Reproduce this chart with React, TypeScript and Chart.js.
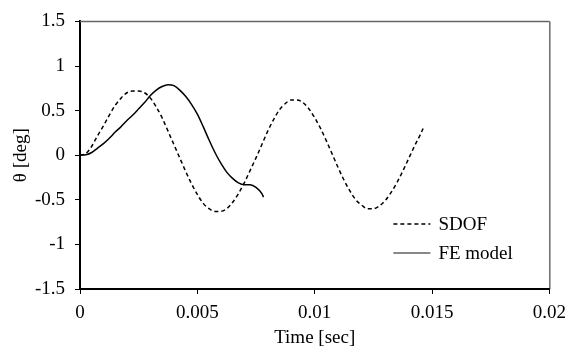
import React, { useEffect, useRef } from 'react';
import { Chart, registerables } from 'chart.js';

Chart.register(...registerables);

// ---- data ----
const sdofTime = [
  0, 0.00025, 0.0005, 0.00075, 0.001, 0.00125, 0.0015, 0.00175, 0.002, 0.00225,
  0.0025, 0.00275, 0.003, 0.00325, 0.0035, 0.00375, 0.004, 0.00425, 0.0045, 0.00475,
  0.005, 0.00525, 0.0055, 0.00575, 0.006, 0.00625, 0.0065, 0.00675, 0.007, 0.00725,
  0.0075, 0.00775, 0.008, 0.00825, 0.0085, 0.00875, 0.009, 0.00925, 0.0095, 0.00975,
  0.01, 0.01025, 0.0105, 0.01075, 0.011, 0.01125, 0.0115, 0.01175, 0.012, 0.01225,
  0.0125, 0.01275, 0.013, 0.01325, 0.0135, 0.01375, 0.014, 0.01425, 0.0145, 0.01462,
];
const sdofTheta = [
  0, 0.02, 0.1, 0.22, 0.33, 0.45, 0.56, 0.64, 0.7, 0.72,
  0.72, 0.7, 0.64, 0.54, 0.42, 0.27, 0.12, -0.03, -0.18, -0.32,
  -0.44, -0.54, -0.6, -0.63, -0.63, -0.6, -0.53, -0.43, -0.31, -0.17,
  -0.03, 0.12, 0.27, 0.4, 0.51, 0.58, 0.62, 0.62, 0.59, 0.52,
  0.42, 0.3, 0.16, 0.01, -0.14, -0.28, -0.4, -0.5, -0.56, -0.6,
  -0.6, -0.57, -0.51, -0.42, -0.31, -0.18, -0.04, 0.1, 0.23, 0.3,
];
const feTime = [
  0, 0.00025, 0.0005, 0.00075, 0.001, 0.00125, 0.0015, 0.00175, 0.002, 0.00225,
  0.0025, 0.00275, 0.003, 0.00325, 0.0035, 0.00375, 0.004, 0.00425, 0.0045, 0.00475,
  0.005, 0.00525, 0.0055, 0.00575, 0.006, 0.00625, 0.0065, 0.00675, 0.007, 0.00725,
  0.0075, 0.00775, 0.00782,
];
const feTheta = [
  0, 0.005, 0.03, 0.08, 0.13, 0.19, 0.26, 0.32, 0.39, 0.45,
  0.52, 0.59, 0.67, 0.73, 0.77, 0.79, 0.78, 0.73, 0.66, 0.57,
  0.46, 0.32, 0.17, 0.03, -0.09, -0.19, -0.26, -0.31, -0.33, -0.33,
  -0.36, -0.43, -0.47,
];
const seriesLabels = ['SDOF', 'FE model'];
const xTickValues = [0, 0.005, 0.01, 0.015, 0.02];
const yTickValues = [-1.5, -1, -0.5, 0, 0.5, 1, 1.5];
const xTitle = 'Time [sec]';
const yTitle = 'θ [deg]';

const FONT = '"Liberation Serif", "Times New Roman", serif';
const FS = 19;

const framePlugin = {
  id: 'frame',
  afterDatasetsDraw(chart: any) {
    const { ctx, chartArea } = chart;
    const { left, right, top, bottom } = chartArea;
    ctx.save();
    ctx.strokeStyle = '#666';
    ctx.lineWidth = 1.5;
    ctx.beginPath();
    ctx.moveTo(left, top);
    ctx.lineTo(right, top);
    ctx.stroke();
    ctx.strokeStyle = '#222';
    ctx.lineWidth = 1;
    ctx.beginPath();
    ctx.moveTo(right + 0.5, top);
    ctx.lineTo(right + 0.5, bottom);
    ctx.stroke();
    ctx.restore();
  },
};

const insideLegendPlugin = {
  id: 'insideLegend',
  afterDraw(chart: any) {
    const { ctx, chartArea } = chart;
    const { right, bottom } = chartArea;
    const rows = [
      { y: bottom - 65, dash: [4, 3], color: '#000', width: 1.5 },
      { y: bottom - 36, dash: [], color: '#888', width: 2 },
    ];
    ctx.save();
    chart.data.datasets.forEach((ds: any, i: number) => {
      const r = rows[i];
      ctx.strokeStyle = r.color;
      ctx.lineWidth = r.width;
      ctx.setLineDash(r.dash);
      ctx.beginPath();
      ctx.moveTo(right - 156, r.y);
      ctx.lineTo(right - 119, r.y);
      ctx.stroke();
      ctx.setLineDash([]);
      ctx.fillStyle = '#000';
      ctx.font = `${FS}px ${FONT}`;
      ctx.textAlign = 'left';
      ctx.textBaseline = 'middle';
      ctx.fillText(ds.label, right - 111, r.y + 1);
    });
    ctx.restore();
  },
};

const fmt = (v: number) => String(parseFloat(Number(v).toFixed(4)));

export default function App() {
  const ref = useRef<HTMLCanvasElement | null>(null);

  useEffect(() => {
    if (!ref.current) return;
    const chart = new Chart(ref.current, {
      type: 'scatter',
      data: {
        datasets: [
          {
            label: seriesLabels[0],
            data: sdofTime.map((t, i) => ({ x: t, y: sdofTheta[i] })),
            showLine: true,
            borderColor: '#000',
            borderWidth: 1.5,
            borderDash: [4, 3],
            pointRadius: 0,
            cubicInterpolationMode: 'monotone',
            fill: false,
          },
          {
            label: seriesLabels[1],
            data: feTime.map((t, i) => ({ x: t, y: feTheta[i] })),
            showLine: true,
            borderColor: '#000',
            borderWidth: 1.5,
            pointRadius: 0,
            cubicInterpolationMode: 'monotone',
            fill: false,
          },
        ],
      },
      options: {
        animation: false,
        responsive: false,
        devicePixelRatio: 1,
        layout: { padding: { top: 15, right: 23, left: 0, bottom: 0 } },
        plugins: {
          legend: { display: false },
          tooltip: { enabled: false },
        },
        scales: {
          x: {
            type: 'linear',
            min: 0,
            max: 0.02,
            afterFit: (s: any) => {
              s.height = 62;
            },
            afterBuildTicks: (s: any) => {
              s.ticks = xTickValues.map((v) => ({ value: v }));
            },
            ticks: {
              color: '#000',
              font: { family: FONT, size: FS },
              padding: 8,
              maxRotation: 0,
              callback: (v: any) => fmt(v),
            },
            grid: {
              drawOnChartArea: false,
              drawTicks: true,
              tickLength: 5,
              color: '#000',
              lineWidth: 1,
            },
            border: { display: true, color: '#000', width: 2 },
            title: {
              display: true,
              text: xTitle,
              color: '#000',
              font: { family: FONT, size: FS },
              padding: { top: 0, bottom: 2 },
            },
          },
          y: {
            type: 'linear',
            min: -1.5,
            max: 1.5,
            afterFit: (s: any) => {
              s.width = 80;
            },
            afterBuildTicks: (s: any) => {
              s.ticks = yTickValues.map((v) => ({ value: v }));
            },
            ticks: {
              color: '#000',
              font: { family: FONT, size: FS },
              padding: 10,
              callback: (v: any) => fmt(v),
            },
            grid: {
              drawOnChartArea: false,
              drawTicks: true,
              tickLength: 5,
              color: '#000',
              lineWidth: 1,
            },
            border: { display: true, color: '#000', width: 2 },
            title: {
              display: true,
              text: yTitle,
              color: '#000',
              font: { family: FONT, size: FS },
              padding: { top: 10, bottom: 0 },
            },
          },
        },
      },
      plugins: [framePlugin, insideLegendPlugin],
    } as any);
    return () => chart.destroy();
  }, []);

  return (
    <div style={{ position: 'absolute', left: 0, top: 0, width: 574, height: 351, background: '#fff' }}>
      <canvas ref={ref} width={574} height={351} style={{ display: 'block' }} />
    </div>
  );
}
